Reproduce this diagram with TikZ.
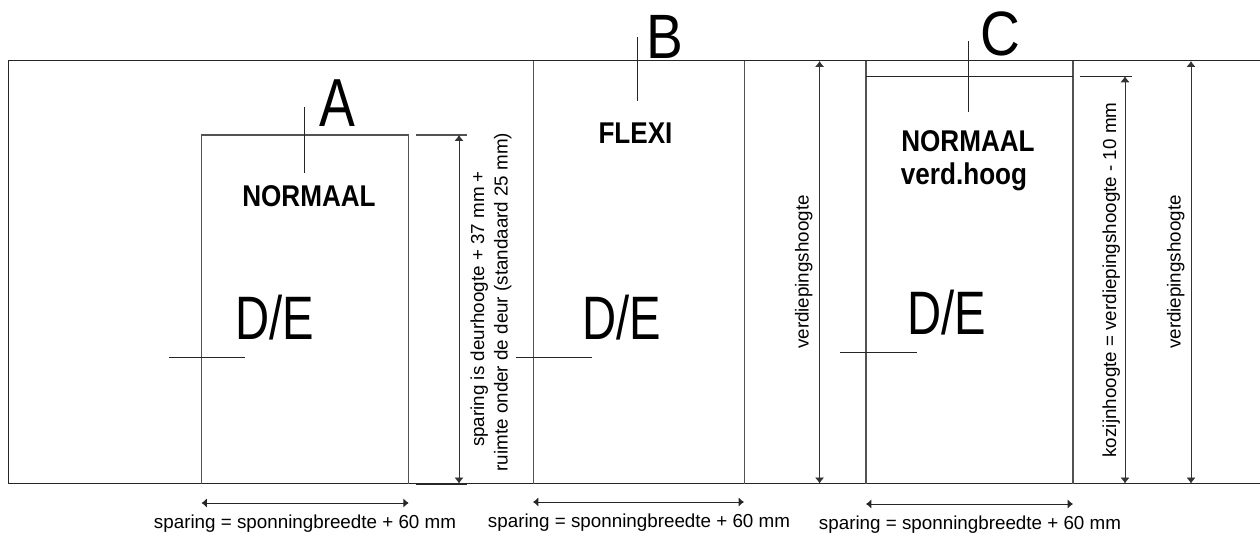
\documentclass[tikz,border=0pt]{standalone}
\usepackage{fontspec}
\usepackage{graphicx}
\setmainfont{Liberation Sans}
\usetikzlibrary{arrows.meta}
\newcommand{\lbl}[1]{\fontsize{14.1pt}{16pt}\selectfont #1}
\newcommand{\bigtxt}[3]{\fontsize{#1pt}{#1pt}\selectfont\scalebox{#2}[1]{#3}}
\tikzset{
  wall/.style={line width=.8pt,black!68},
  edge/.style={line width=.75pt,black!85},
  thinline/.style={line width=.6pt,black!85},
  dimarrow/.style={line width=.7pt,black!80,{Latex[length=4.5pt,width=7pt]}-{Latex[length=4.5pt,width=7pt]}},
  hdim/.style={line width=.7pt,black!85,{Latex[length=4pt,width=7pt]}-{Latex[length=4pt,width=7pt]}},
  txt/.style={inner sep=0pt,outer sep=0pt,anchor=base,align=center},
  vtxt/.style={txt,rotate=90},
}
\begin{document}
\begin{tikzpicture}[x=.75pt,y=-.75pt]
\useasboundingbox (0,0) rectangle (1260,534);
% frame
\coordinate (tl) at (8,61); \coordinate (bl) at (8,483.5);
\coordinate (tr) at (1260,61); \coordinate (br) at (1260,483.5);
\draw[edge] (tr) -- (tl) -- (bl) -- (br);
% openings
\draw[wall] (201.5,483.5) -- (201.5,135) -- (408.7,135) -- (408.7,483.5);
\draw[wall] (533.3,61) -- (533.3,483.5);
\draw[wall] (744.3,61) -- (744.3,483.5);
\draw[wall] (866,61) -- (866,483.5);
\draw[wall] (1073,61) -- (1073,483.5);
\draw[thinline] (866,76.3) -- (1073,76.3);
% ticks
\draw[wall] (416,135) -- (467,135);
\draw[thinline] (416,484) -- (467,484);
\draw[thinline] (1080,76.3) -- (1132,76.3);
% leaders
\draw[thinline] (304.5,107) -- (304.5,173);
\draw[thinline] (637.6,37) -- (637.6,100.6);
\draw[thinline] (968,41) -- (968,112);
\draw[thinline] (169,357) -- (245,357);
\draw[thinline] (515.5,357) -- (592,357);
\draw[thinline] (840,352) -- (917,352);
% height dimension arrows
\coordinate (a1) at (459,135); \coordinate (a2) at (459,483.5);
\coordinate (b1) at (819.6,61); \coordinate (b2) at (819.6,483.5);
\coordinate (c1) at (1125,76.3); \coordinate (c2) at (1125,483.5);
\coordinate (d1) at (1191,61); \coordinate (d2) at (1191,483.5);
\draw[dimarrow] (a1) -- (a2);
\draw[dimarrow] (b1) -- (b2);
\draw[dimarrow] (c1) -- (c2);
\draw[dimarrow] (d1) -- (d2);
% width dimension arrows
\coordinate (e1) at (201.5,503); \coordinate (e2) at (408.7,503);
\coordinate (f1) at (533,502); \coordinate (f2) at (744,502);
\coordinate (g1) at (866,504); \coordinate (g2) at (1073,504);
\draw[hdim] (e1) -- (e2);
\draw[hdim] (f1) -- (f2);
\draw[hdim] (g1) -- (g2);
% big letters
\node[txt] (lA) at (337,127) {\bigtxt{51}{.79}{A}};
\node[txt] (lB) at (665,58.5) {\bigtxt{47}{.88}{B}};
\node[txt] (lC) at (1000,56) {\bigtxt{47}{.88}{C}};
\node[txt] (de1) at (275,340) {\bigtxt{46}{.77}{D/E}};
\node[txt] (de2) at (622,340) {\bigtxt{46}{.77}{D/E}};
\node[txt] (de3) at (947,335) {\bigtxt{46}{.77}{D/E}};
% titles
\node[txt] (n1) at (309,207) {\bfseries\bigtxt{22.5}{.87}{NORMAAL}};
\node[txt] (n2) at (635.5,143.5) {\bfseries\bigtxt{22.5}{.87}{FLEXI}};
\node[txt] (n3) at (968,152) {\bfseries\bigtxt{22.5}{.87}{NORMAAL}};
\node[txt] (n4) at (964,184.5) {\bfseries\bigtxt{22.5}{.87}{verd.hoog}};
% labels
\node[txt] (t1) at (305,528) {\lbl{sparing = sponningbreedte + 60 mm}};
\node[txt] (t2) at (639,527) {\lbl{sparing = sponningbreedte + 60 mm}};
\node[txt] (t3) at (970,529) {\lbl{sparing = sponningbreedte + 60 mm}};
\node[vtxt] (v1) at (484,309) {\lbl{sparing is deurhoogte + 37 mm +}};
\node[vtxt] (v2) at (507.5,302) {\lbl{ruimte onder de deur (standaard 25 mm)}};
\node[vtxt] (v3) at (808.5,272) {\lbl{verdiepingshoogte}};
\node[vtxt] (v4) at (1116,280) {\lbl{kozijnhoogte = verdiepingshoogte - 10 mm}};
\node[vtxt] (v5) at (1180.5,272) {\lbl{verdiepingshoogte}};
\end{tikzpicture}
\end{document}
